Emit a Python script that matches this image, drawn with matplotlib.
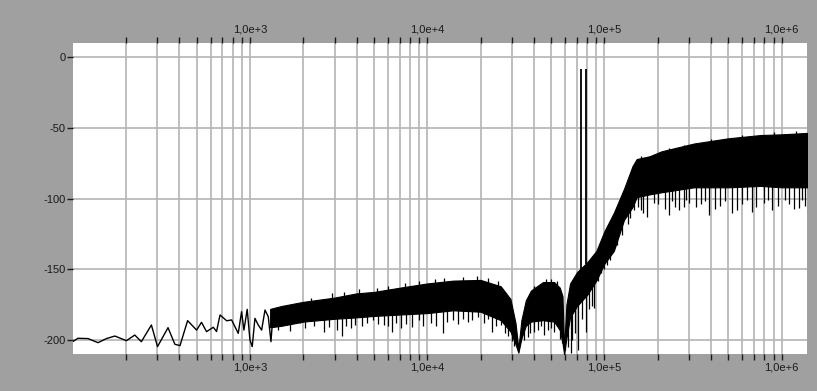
import numpy as np
import matplotlib
matplotlib.use("Agg")
import matplotlib.pyplot as plt
from matplotlib.ticker import FuncFormatter, FixedLocator, NullFormatter

# ---- data ----
# low-frequency single trace (Hz, dB)
line_freq = [100, 107, 122, 139, 155, 173, 201, 224, 244, 278, 301, 345, 377, 403,
             445, 500, 533, 569, 621, 648, 678, 739, 788, 859, 897, 925, 965, 1000,
             1030, 1067, 1114, 1164, 1216, 1269, 1314, 1355, 1445]
line_db = [-201.2, -198.8, -199.0, -201.9, -199.0, -197.2, -200.5, -196.5, -201.2,
           -189.4, -204.7, -191.3, -203.0, -204.0, -186.3, -193.0, -187.5, -194.1,
           -191.0, -194.0, -182.3, -186.4, -185.8, -195.3, -180.0, -193.0, -178.3,
           -200.0, -204.7, -184.7, -189.4, -193.0, -178.8, -183.5, -201.2, -178.8,
           -189.4]

# dense noise band: upper / lower envelope (Hz, dB)
band_freq = [1300, 1500, 2000, 3000, 4000, 5000, 7000, 10000, 14000, 20000, 26000,
             29500, 31500, 32700, 34000, 36000, 38500, 45000, 52000, 56000, 58000,
             59200, 61000, 64000, 70000, 80000, 90000, 100000, 113000, 129000,
             144000, 152000, 180000, 210000, 320000, 500000, 760000, 1000000, 1390000]
band_top = [-178, -176, -173, -170, -167, -166, -163, -160, -158, -157.5, -162,
            -171, -188, -206, -186, -172, -165, -159, -159, -163, -169,
            -207, -175, -160, -152, -145, -137, -123, -110, -93,
            -77, -72, -70, -66.5, -61, -57.3, -55, -54.5, -53.5]
band_bot = [-191, -190, -187, -185, -184, -183, -182, -181, -179, -180, -186,
            -194, -203, -209, -199, -190, -187, -186, -187, -193, -202,
            -210, -199, -184, -176, -168, -158, -146, -137, -115,
            -106, -99, -97, -95.5, -92, -92, -91, -92, -92]

# downward spikes below the band (Hz, dB at tip)
spike_freq = [1445, 1684, 1918, 2037, 2300, 2619, 2800, 3100, 3307, 3500, 3730, 3930,
              4300, 4600, 4945, 5300, 5700, 6000, 6325, 6700, 7138, 7600, 8200, 8935,
              9500, 10500, 11200, 12250, 13000, 13950, 15000, 16000, 16950, 18000,
              19300, 21000, 22000, 23160, 24500, 26100, 27500, 28500, 30000, 31000,
              33900, 35000, 36900, 38000, 40300, 42000, 44000, 45800, 48000, 50000,
              52000, 54600, 56500, 57500, 59600, 62000, 64800, 66000, 68000, 70600,
              75000, 78600, 82000, 85000, 87400, 92000, 95300, 100000, 104000, 108000,
              118000, 126000, 135000, 140000, 147000, 155000, 160000, 165000, 174500,
              190000, 200000, 220000, 231000, 240000, 250000, 265000, 281000, 290000,
              300000, 330000, 350000, 370000, 389000, 420000, 450000, 480000, 527000,
              560000, 600000, 640000, 684000, 720000, 800000, 840000, 887000, 950000,
              1050000, 1100000, 1180000, 1250000, 1300000, 1350000]
spike_db = [-193.0, -193.5, -188.2, -191.7, -190.0, -194.1, -191.0, -193.0, -197.2,
            -190.0, -191.7, -189.4, -190.0, -188.0, -185.8, -189.0, -189.4, -190.0,
            -194.1, -188.0, -191.7, -189.0, -191.0, -185.8, -190.0, -188.0, -190.0,
            -195.3, -187.0, -185.8, -189.0, -185.0, -187.0, -186.0, -183.5, -188.0,
            -185.0, -194.1, -190.0, -189.4, -195.0, -197.0, -201.0, -204.0, -192.9,
            -200.0, -197.6, -195.0, -194.1, -193.0, -190.0, -196.5, -193.0, -191.7,
            -194.0, -187.0, -199.0, -202.0, -207.0, -205.0, -209.4, -200.0, -195.0,
            -207.0, -185.0, -194.1, -178.0, -176.0, -177.6, -158.0, -152.8, -150.0,
            -147.0, -143.4, -133.0, -125.7, -118.0, -114.0, -108.0, -106.0, -108.0,
            -110.0, -112.8, -103.0, -104.0, -107.0, -111.6, -102.0, -106.0, -108.0,
            -105.7, -101.0, -103.0, -106.0, -104.0, -102.0, -111.6, -107.0, -105.0,
            -102.0, -110.4, -108.0, -104.0, -101.0, -109.2, -106.0, -103.0, -101.0,
            -108.0, -105.0, -101.0, -104.0, -107.0, -106.8, -101.0, -105.0]

# small upward spikes above the band (Hz, dB at tip)
peak_freq = [2200, 2900, 3400, 4100, 5200, 6000, 7500, 9000, 11000, 12500, 16000,
             19000, 22000, 25000, 40000, 47000, 50000, 54000, 160000, 230000, 280000,
             400000, 600000, 900000, 1200000]
peak_db = [-170, -167, -166, -164, -163, -162, -160, -158, -157, -156, -155.5,
           -155, -156, -158, -162, -157, -156.5, -158, -70, -64, -62,
           -58, -55, -53, -52.5]

# two tones
tone_freq = [73500, 78500]
tone_db = [-8.3, -8.3]

y_ticks = [0, -50, -100, -150, -200]
x_major = [1e3, 1e4, 1e5, 1e6]
x_minor = [m * 10.0 ** k for k in range(2, 7) for m in range(2, 10) if m * 10.0 ** k < 1.39e6]

# ---- figure ----
BG = '#a0a0a0'
GRID = '#b4b4b4'
INK = '#1a1a1a'
plt.rcParams['font.family'] = ['Liberation Sans', 'DejaVu Sans']

fig = plt.figure(figsize=(8.17, 3.91), dpi=100, facecolor=BG)
ax = fig.add_axes([0.08898, 0.0954, 0.8988, 0.7946])
ax.set_facecolor('white')

ax.set_xscale('log')
ax.set_xlim(100, 1.39e6)
ax.set_ylim(-209.7, 10.1)

ax.plot(line_freq, line_db, color='black', lw=1.0, zorder=3)
ax.fill_between(band_freq, band_bot, band_top, color='black', lw=0.8, zorder=3)

lb = np.log10(band_freq)
spike_base = np.interp(np.log10(spike_freq), lb, band_bot) + 3
ax.vlines(spike_freq, spike_db, spike_base, color='black', lw=0.9, zorder=3)
peak_base = np.interp(np.log10(peak_freq), lb, band_top) - 3
ax.vlines(peak_freq, peak_base, peak_db, color='black', lw=0.9, zorder=3)
tone_base = np.interp(np.log10(tone_freq), lb, band_top)
ax.vlines(tone_freq, tone_base, tone_db, color='black', lw=1.3, zorder=3)

# axes styling
for s in ax.spines.values():
    s.set_visible(False)

ax.xaxis.set_major_locator(FixedLocator(x_major))
ax.xaxis.set_minor_locator(FixedLocator(x_minor))


def fmt(v, pos):
    e = int(round(np.log10(v)))
    return "1,0e+%d" % e


ax.xaxis.set_major_formatter(FuncFormatter(fmt))
ax.xaxis.set_minor_formatter(NullFormatter())
ax.yaxis.set_major_locator(FixedLocator(y_ticks))
ax.yaxis.set_major_formatter(FuncFormatter(lambda v, p: "%d" % v))

ax.tick_params(axis='x', which='both', top=True, bottom=True, labeltop=True,
               labelbottom=True, direction='out', length=4, width=1,
               color=INK, labelcolor=INK, labelsize=8, pad=2)
ax.tick_params(axis='y', which='major', left=True, right=False, direction='out',
               length=4, width=1, color=INK, labelcolor=INK, labelsize=8, pad=1)

ax.grid(True, which='both', axis='x', color=GRID, lw=1.2, zorder=1)
ax.grid(True, which='major', axis='y', color=GRID, lw=1.2, zorder=1)
ax.set_axisbelow(True)

fig.savefig('out.png', dpi=100, facecolor=BG)
